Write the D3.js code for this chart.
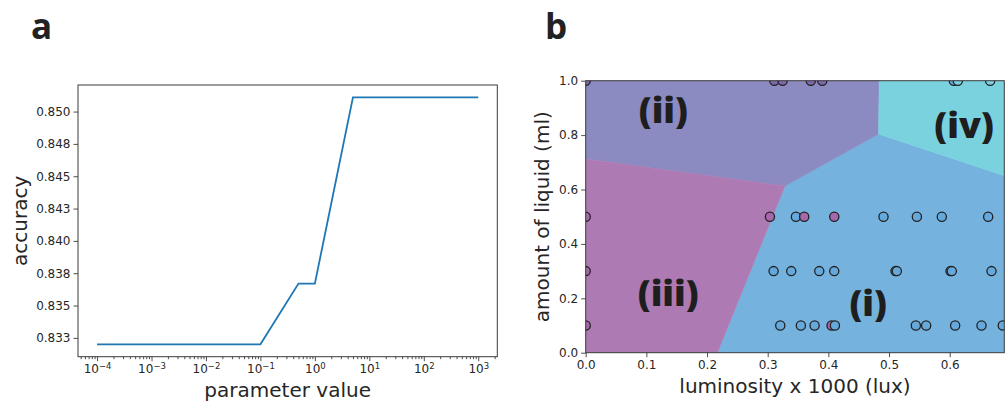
<!DOCTYPE html>
<html>
<head>
<meta charset="utf-8">
<script src="https://cdn.jsdelivr.net/npm/d3@7"></script>
<style>
  body { margin: 0; background: #fff; }
  svg { display: block; }
  .tick text { font-family: "DejaVu Sans", sans-serif; font-size: 12px; fill: #262626; }
  .axlabel { font-family: "DejaVu Sans", sans-serif; font-size: 20px; fill: #262626; }
  .panel { font-family: "Open Sans", sans-serif; font-weight: 700; font-size: 35px; fill: #222; }
  .rlabel { font-family: "Open Sans", sans-serif; font-weight: 800; font-size: 36px; fill: #1e1e1e; }
</style>
</head>
<body>
<div id="chart"></div>
<script>
// panel a: accuracy vs regularisation parameter
var paramValues = [1e-4, 1e-3, 1e-2, 1e-1, 0.5, 1, 5, 10, 100, 1000];
var accuracy    = [0.8320, 0.8320, 0.8320, 0.8320, 0.8367, 0.8367, 0.8511, 0.8511, 0.8511, 0.8511];
var accTicks    = [0.8325, 0.835, 0.8375, 0.84, 0.8425, 0.845, 0.8475, 0.85];
var accLabels   = ["0.833", "0.835", "0.838", "0.840", "0.843", "0.845", "0.848", "0.850"];
var decadeExps  = [-4, -3, -2, -1, 0, 1, 2, 3];

// panel b: decision regions + samples
var classNames  = ["(i)", "(ii)", "(iii)", "(iv)"];
var regionFill  = ["#75b3de", "#8b8bc2", "#ae7ab4", "#7bd2df"];
var pointFill   = ["#64a8dc", "#7e68ae", "#a667ad", "#7ad0df"];
var regionPolys = [
  [[0.217, 0], [0.69, 0], [0.69, 0.651], [0.4827, 0.804], [0.3284, 0.6127]],
  [[0, 0.712], [0.3284, 0.6127], [0.4827, 0.804], [0.4838, 1], [0, 1]],
  [[0, 0], [0.217, 0], [0.3284, 0.6127], [0, 0.712]],
  [[0.4838, 1], [0.4827, 0.804], [0.69, 0.651], [0.69, 1]]
];
var regionLabelPos = [[0.4656, 0.182], [0.128, 0.892], [0.136, 0.218], [0.6237, 0.837]];
var lumTicks = [0, 0.1, 0.2, 0.3, 0.4, 0.5, 0.6];
var liqTicks = [0, 0.2, 0.4, 0.6, 0.8, 1.0];

var lum = [0.0, 0.311, 0.3246, 0.371, 0.390, 0.6068, 0.6134, 0.6667,
           0.0, 0.3037, 0.3465, 0.3602, 0.4097, 0.4909, 0.5459, 0.587, 0.6634,
           0.0, 0.3097, 0.3388, 0.385, 0.4097, 0.5107, 0.5129, 0.6013, 0.6035, 0.6689,
           0.0, 0.3207, 0.3547, 0.3773, 0.4053, 0.4108, 0.5442, 0.5612, 0.609, 0.6524, 0.6875];
var liq = [1, 1, 1, 1, 1, 1, 1, 1,
           0.5, 0.5, 0.5, 0.5, 0.5, 0.5, 0.5, 0.5, 0.5,
           0.3, 0.3, 0.3, 0.3, 0.3, 0.3, 0.3, 0.3, 0.3, 0.3,
           0.1, 0.1, 0.1, 0.1, 0.1, 0.1, 0.1, 0.1, 0.1, 0.1, 0.1];
var cls = [1, 1, 1, 1, 1, 0, 3, 3,
           2, 2, 0, 2, 2, 0, 0, 0, 0,
           2, 0, 0, 0, 0, 0, 0, 0, 0, 0,
           2, 0, 0, 0, 2, 0, 0, 0, 0, 0, 0];

var W = 1008, H = 408;
var svg = d3.select("#chart").append("svg").attr("width", W).attr("height", H);

var SPINE = "#3a3a3a";

function styleAxis(g) {
  g.select(".domain").remove();
  g.selectAll(".tick line").attr("stroke", SPINE).attr("stroke-width", 0.9);
}

// ---------- panel a ----------
var A = {left: 78, right: 497.3, top: 85, bottom: 356.7};
var lx = d3.extent(paramValues).map(Math.log10);
var padX = (lx[1] - lx[0]) * 0.05;
var xA = d3.scaleLog().domain([Math.pow(10, lx[0] - padX), Math.pow(10, lx[1] + padX)]).range([A.left, A.right]);
var ya = d3.extent(accuracy);
var padY = (ya[1] - ya[0]) * 0.05;
var yA = d3.scaleLinear().domain([ya[0] - padY, ya[1] + padY]).range([A.bottom, A.top]);

svg.append("text").attr("class", "panel").attr("x", 31).attr("y", 39).text("a");

var minorA = [];
for (var e = -5; e <= 3; e++) {
  for (var m = 2; m <= 9; m++) {
    var v = m * Math.pow(10, e);
    if (v > xA.domain()[0] && v < xA.domain()[1]) minorA.push(v);
  }
}
svg.append("g").attr("transform", "translate(0," + A.bottom + ")")
  .call(d3.axisBottom(xA).tickValues(minorA).tickSize(2.5).tickFormat(""))
  .call(styleAxis);

var gxA = svg.append("g").attr("transform", "translate(0," + A.bottom + ")")
  .call(d3.axisBottom(xA).tickValues(decadeExps.map(function(d){ return Math.pow(10, d); })).tickSize(4.5).tickPadding(5).tickFormat(""))
  .call(styleAxis);
gxA.selectAll(".tick").each(function(d, i) {
  var t = d3.select(this).select("text").attr("dy", "0.71em").attr("x", 0).attr("y", 8);
  t.append("tspan").text("10");
  var ex = decadeExps[i];
  t.append("tspan").attr("dy", "-0.45em").attr("font-size", "8.5px").text(ex < 0 ? "\u2212" + (-ex) : "" + ex);
});

svg.append("g").attr("transform", "translate(" + A.left + ",0)")
  .call(d3.axisLeft(yA).tickValues(accTicks).tickSize(4.5).tickPadding(3)
    .tickFormat(function(d, i){ return accLabels[i]; }))
  .call(styleAxis);

svg.append("path")
  .datum(paramValues.map(function(p, i){ return [p, accuracy[i]]; }))
  .attr("fill", "none").attr("stroke", "#1f77b4").attr("stroke-width", 1.8)
  .attr("d", d3.line().x(function(d){ return xA(d[0]); }).y(function(d){ return yA(d[1]); }));

svg.append("rect").attr("x", A.left).attr("y", A.top)
  .attr("width", A.right - A.left).attr("height", A.bottom - A.top)
  .attr("fill", "none").attr("stroke", SPINE).attr("stroke-width", 1);

svg.append("text").attr("class", "axlabel").attr("text-anchor", "middle")
  .attr("x", (A.left + A.right) / 2).attr("y", 397).text("parameter value");
svg.append("text").attr("class", "axlabel").attr("text-anchor", "middle")
  .attr("transform", "translate(27," + (A.top + A.bottom) / 2 + ") rotate(-90)").text("accuracy");

// ---------- panel b ----------
var B = {left: 585.7, right: 1004.3, top: 80.7, bottom: 352.7};
var xB = d3.scaleLinear().domain([0, 0.69]).range([B.left, B.right]);
var yB = d3.scaleLinear().domain([0, 1]).range([B.bottom, B.top]);

svg.append("text").attr("class", "panel").attr("x", 545).attr("y", 39).text("b");

svg.append("clipPath").attr("id", "clipB").append("rect")
  .attr("x", B.left).attr("y", B.top).attr("width", B.right - B.left).attr("height", B.bottom - B.top);

var plotB = svg.append("g").attr("clip-path", "url(#clipB)");
var poly = d3.line().x(function(d){ return xB(d[0]); }).y(function(d){ return yB(d[1]); }).curve(d3.curveLinearClosed);

plotB.selectAll("path.area").data(regionPolys).join("path")
  .attr("class", "area")
  .attr("d", poly)
  .attr("fill", function(d, i){ return regionFill[i]; })
  .attr("stroke", function(d, i){ return regionFill[i]; })
  .attr("stroke-width", 0.6);

svg.selectAll("text.rlabel").data(classNames).join("text")
  .attr("class", "rlabel").attr("text-anchor", "middle").attr("dy", "0.36em")
  .attr("x", function(d, i){ return xB(regionLabelPos[i][0]); })
  .attr("y", function(d, i){ return yB(regionLabelPos[i][1]); })
  .text(function(d){ return d; });

plotB.selectAll("circle").data(lum).join("circle")
  .attr("cx", function(d){ return xB(d); })
  .attr("cy", function(d, i){ return yB(liq[i]); })
  .attr("r", 4.6)
  .attr("fill", function(d, i){ return pointFill[cls[i]]; })
  .attr("stroke", "#222").attr("stroke-width", 1.3);

svg.append("g").attr("transform", "translate(0," + B.bottom + ")")
  .call(d3.axisBottom(xB).tickValues(lumTicks).tickSize(4.5).tickPadding(3).tickFormat(d3.format(".1f")))
  .call(styleAxis);
svg.append("g").attr("transform", "translate(" + B.left + ",0)")
  .call(d3.axisLeft(yB).tickValues(liqTicks).tickSize(4.5).tickPadding(3).tickFormat(d3.format(".1f")))
  .call(styleAxis);

svg.append("rect").attr("x", B.left).attr("y", B.top)
  .attr("width", B.right - B.left).attr("height", B.bottom - B.top)
  .attr("fill", "none").attr("stroke", SPINE).attr("stroke-width", 1);

svg.append("text").attr("class", "axlabel").attr("text-anchor", "middle")
  .attr("x", (B.left + B.right) / 2).attr("y", 393).text("luminosity x 1000 (lux)");
svg.append("text").attr("class", "axlabel").attr("text-anchor", "middle")
  .attr("transform", "translate(549," + (B.top + B.bottom) / 2 + ") rotate(-90)").text("amount of liquid (ml)");
</script>
</body>
</html>
